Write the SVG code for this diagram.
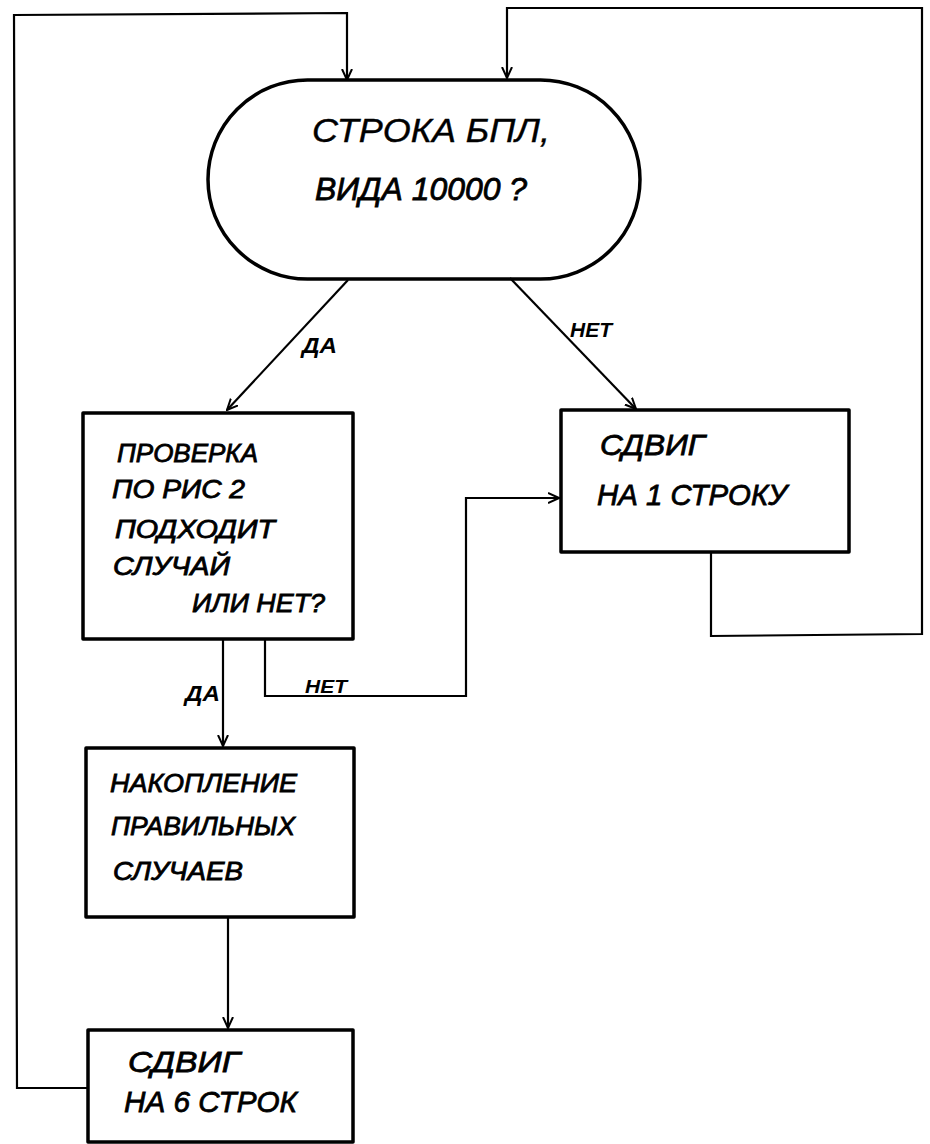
<svg xmlns="http://www.w3.org/2000/svg" width="930" height="1144" viewBox="0 0 930 1144">
<style>
.node{fill:none;stroke:#000;stroke-width:3.5;stroke-linejoin:round}
.conn{fill:none;stroke:#000;stroke-width:2.2}
.t{font-family:"Liberation Sans",Arial,sans-serif;font-style:italic;fill:#000;stroke:#000;stroke-width:0.8}
.ts{font-family:"Liberation Sans",Arial,sans-serif;font-style:italic;fill:#000;stroke:#000;stroke-width:0.4}
.lbl{font-family:"Liberation Sans",Arial,sans-serif;font-style:italic;font-weight:bold;fill:#000}
</style>
<defs>
<marker id="ah" viewBox="0 0 12 12" refX="11" refY="6" markerWidth="12" markerHeight="12" markerUnits="userSpaceOnUse" orient="auto">
<path d="M0,1 L11,6 L0,11" fill="none" stroke="#000" stroke-width="2"/>
</marker>
</defs>
<rect width="930" height="1144" fill="#fff"/>
<g id="connectors">
<polyline class="conn" points="88,1088 17,1088 14,15 347,13 347,80" marker-end="url(#ah)"/>
<polyline class="conn" points="711,552 711,636 922,634 922,8 507,8 507,78" marker-end="url(#ah)"/>
<line class="conn" x1="348" y1="280" x2="227" y2="410" marker-end="url(#ah)"/>
<line class="conn" x1="510" y1="278" x2="636" y2="409" marker-end="url(#ah)"/>
<line class="conn" x1="223" y1="639" x2="223" y2="746" marker-end="url(#ah)"/>
<polyline class="conn" points="265,639 265,696 466,696 466,498 559,498" marker-end="url(#ah)"/>
<line class="conn" x1="228" y1="917" x2="228" y2="1028" marker-end="url(#ah)"/>
<text class="lbl" x="302" y="353" font-size="22" textLength="35" lengthAdjust="spacingAndGlyphs">ДА</text>
<text class="lbl" x="570" y="337" font-size="20" textLength="42" lengthAdjust="spacingAndGlyphs">НЕТ</text>
<text class="lbl" x="185" y="701" font-size="22" textLength="35" lengthAdjust="spacingAndGlyphs">ДА</text>
<text class="lbl" x="305" y="693" font-size="19" textLength="42" lengthAdjust="spacingAndGlyphs">НЕТ</text>
</g>
<g id="start">
<rect class="node" x="208" y="80" width="432" height="199" rx="99.5" ry="99.5"/>
<text class="ts" x="312" y="142" font-size="34" textLength="238" lengthAdjust="spacingAndGlyphs">СТРОКА БПЛ,</text>
<text class="t" x="315" y="200" font-size="32" textLength="212" lengthAdjust="spacingAndGlyphs">ВИДА 10000 ?</text>
</g>
<g id="check">
<rect class="node" x="83" y="413" width="270" height="226"/>
<text class="t" x="117" y="462" font-size="25" textLength="141" lengthAdjust="spacingAndGlyphs">ПРОВЕРКА</text>
<text class="t" x="112" y="498" font-size="25" textLength="133" lengthAdjust="spacingAndGlyphs">ПО РИС 2</text>
<text class="t" x="115" y="538" font-size="25" textLength="160" lengthAdjust="spacingAndGlyphs">ПОДХОДИТ</text>
<text class="t" x="113" y="575" font-size="25" textLength="117" lengthAdjust="spacingAndGlyphs">СЛУЧАЙ</text>
<text class="t" x="192" y="612" font-size="25" textLength="133" lengthAdjust="spacingAndGlyphs">ИЛИ НЕТ?</text>
</g>
<g id="shift1">
<rect class="node" x="561" y="410" width="288" height="142"/>
<text class="t" x="600" y="455" font-size="30" textLength="105" lengthAdjust="spacingAndGlyphs">СДВИГ</text>
<text class="t" x="597" y="505" font-size="30" textLength="190" lengthAdjust="spacingAndGlyphs">НА 1 СТРОКУ</text>
</g>
<g id="accumulate">
<rect class="node" x="86" y="748" width="268" height="169"/>
<text class="t" x="110" y="792" font-size="25" textLength="187" lengthAdjust="spacingAndGlyphs">НАКОПЛЕНИЕ</text>
<text class="t" x="111" y="835" font-size="25" textLength="184" lengthAdjust="spacingAndGlyphs">ПРАВИЛЬНЫХ</text>
<text class="t" x="113" y="880" font-size="25" textLength="130" lengthAdjust="spacingAndGlyphs">СЛУЧАЕВ</text>
</g>
<g id="shift6">
<rect class="node" x="88" y="1030" width="265" height="112"/>
<text class="t" x="128" y="1072" font-size="30" textLength="112" lengthAdjust="spacingAndGlyphs">СДВИГ</text>
<text class="t" x="124" y="1112" font-size="30" textLength="173" lengthAdjust="spacingAndGlyphs">НА 6 СТРОК</text>
</g>
</svg>
